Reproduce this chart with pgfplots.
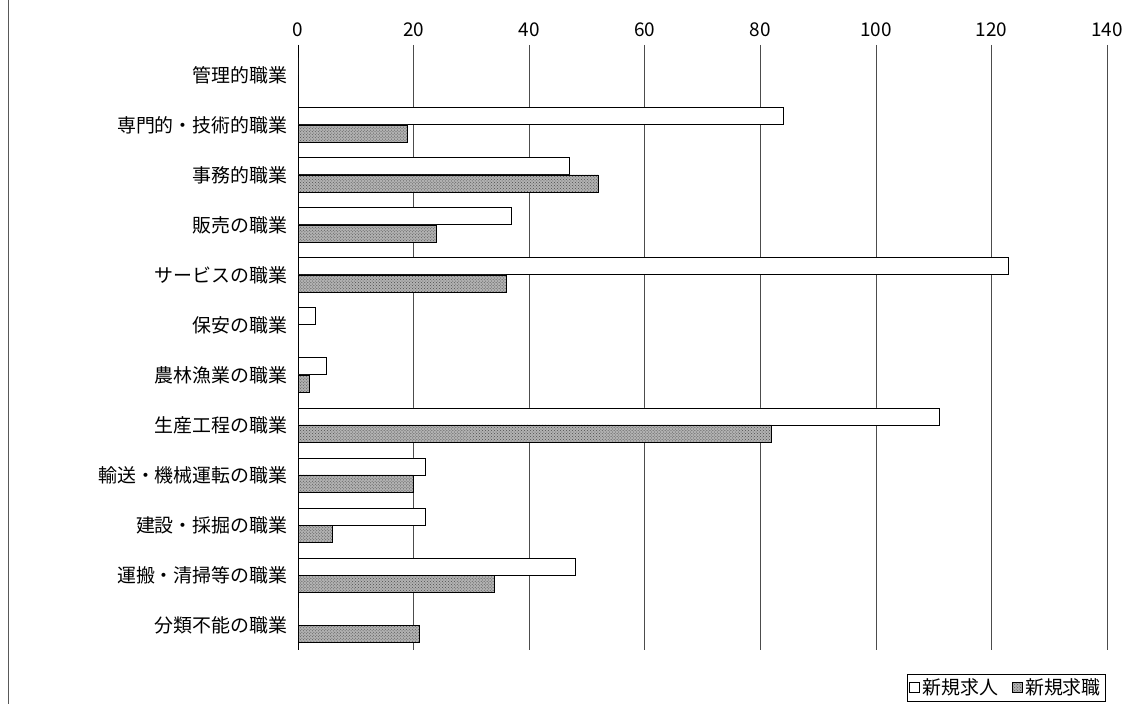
\documentclass[border=0pt]{standalone}
\usepackage{fontspec}
\setmainfont{Noto Sans CJK JP}
\usepackage{pgfplots}
\pgfplotsset{compat=1.18}
\usetikzlibrary{patterns}
\begin{document}
\fontsize{19}{22}\selectfont
\begin{tikzpicture}[x=1bp,y=1bp]
\path[use as bounding box] (0,0) rectangle (1129,704);
\draw[gray!70!black] (8,0) -- (8,704);
\begin{axis}[at={(298bp,54bp)},anchor=south west,scale only axis,
 width=809bp,height=605bp,
 xmin=0,xmax=140,xtick={0,20,...,140},
 ymin=-0.6,ymax=11.5,y dir=reverse,
 ytick={0,...,11},
 yticklabels={管理的職業,専門的・技術的職業,事務的職業,販売の職業,サービスの職業,保安の職業,農林漁業の職業,生産工程の職業,輸送・機械運転の職業,建設・採掘の職業,運搬・清掃等の職業,分類不能の職業},
 axis x line=top, axis y line=left,
 x axis line style={draw=none}, y axis line style={-,black},
 xmajorgrids, grid style={black!70,line width=0.6pt},
 major tick length=0pt,
 /pgf/number format/assume math mode=true,
 tick label style={font=\fontsize{19}{22}\selectfont},
 yticklabel style={xshift=-4bp},
 xticklabel style={yshift=2bp},
 legend style={at={(rel axis cs:1,0)},anchor=north east,yshift=-24bp,xshift=-2bp,
   legend columns=2,draw=black,font=\fontsize{19}{22}\selectfont,
   /tikz/every even column/.append style={column sep=12bp},inner sep=2bp},
]
\addplot[xbar,bar width=17bp,bar shift=8.5bp,draw=black,fill=white,line width=1pt,
 legend image code/.code={\draw[draw=black,fill=white,line width=1pt] (0bp,-5bp) rectangle (10bp,5bp);}]
 coordinates {(0,0) (84,1) (47,2) (37,3) (123,4) (3,5) (5,6) (111,7) (22,8) (22,9) (48,10) (0,11)};
\addlegendentry{新規求人}
\addplot[xbar,bar width=17bp,bar shift=-8.5bp,draw=black,line width=0.8pt,fill=gray!60,
 postaction={pattern=crosshatch dots,pattern color=black!70},
 legend image code/.code={\draw[draw=black,fill=gray!60,line width=1pt] (0bp,-5bp) rectangle (10bp,5bp);}]
 coordinates {(0,0) (19,1) (52,2) (24,3) (36,4) (0,5) (2,6) (82,7) (20,8) (6,9) (34,10) (21,11)};
\addlegendentry{新規求職}
\end{axis}
\end{tikzpicture}
\end{document}
